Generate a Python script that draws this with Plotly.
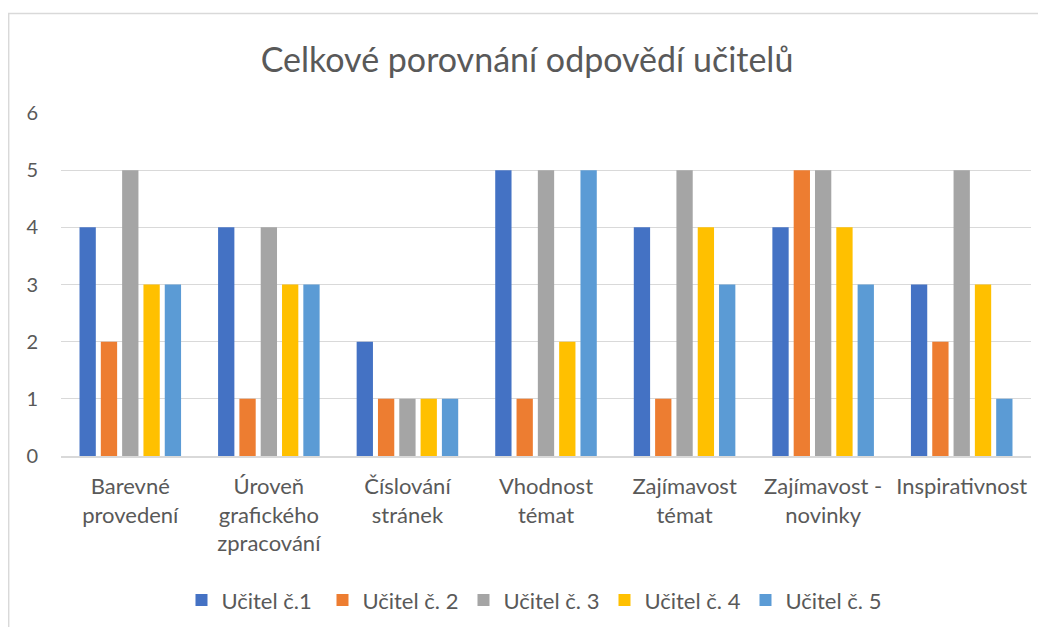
import plotly.graph_objects as go

categories = ["Barevné<br>provedení", "Úroveň<br>grafického<br>zpracování", "Číslování<br>stránek",
              "Vhodnost<br>témat", "Zajímavost<br>témat", "Zajímavost -<br>novinky", "Inspirativnost"]
series_names = ["Učitel č.1", "Učitel č. 2", "Učitel č. 3", "Učitel č. 4", "Učitel č. 5"]
ucitel1 = [4, 4, 2, 5, 4, 4, 3]
ucitel2 = [2, 1, 1, 1, 1, 5, 2]
ucitel3 = [5, 4, 1, 5, 5, 5, 5]
ucitel4 = [3, 3, 1, 2, 4, 4, 3]
ucitel5 = [3, 3, 1, 5, 3, 3, 1]
colors = ["#4472C4", "#ED7D31", "#A5A5A5", "#FFC000", "#5B9BD5"]

FONT = "Lato"
GREY = "#595959"

# page has an 8px body margin, so the figure is drawn 8px smaller and offset
W, H = 1038, 619
L, R, T, B = 53.3, 15.3, 105.3, 171
plot_w = W - L - R
plot_h = H - T - B

fig = go.Figure()
for name, vals, col in zip(series_names, [ucitel1, ucitel2, ucitel3, ucitel4, ucitel5], colors):
    fig.add_trace(go.Bar(x=categories, y=vals, name=name, marker=dict(color=col, line=dict(width=0))))

fig.update_layout(
    width=W, height=H,
    paper_bgcolor="white", plot_bgcolor="white",
    barmode="group", bargap=0.231, bargroupgap=0.235,
    margin=dict(l=L, r=R, t=T, b=B, autoexpand=False),
    title=dict(text="Celkové porovnání odpovědí učitelů", x=0.5, xanchor="center",
               y=1 - 52 / H, yanchor="middle",
               font=dict(family=FONT, size=34, color=GREY)),
    font=dict(family=FONT, size=22, color=GREY),
    legend=dict(orientation="h", x=0.5 - 12 / plot_w, xanchor="center", y=(H - B - 592) / plot_h,
                yanchor="middle",
                font=dict(family=FONT, size=22, color=GREY), itemwidth=30,
                entrywidth=96, entrywidthmode="pixels",
                traceorder="normal"),
    xaxis=dict(showgrid=False, showline=True, linecolor="#D9D9D9", linewidth=1.5,
               ticks="", tickfont=dict(family=FONT, size=22, color=GREY), tickangle=0,
               ticklabelstandoff=10),
    yaxis=dict(range=[0, 6], dtick=1, showgrid=True, gridcolor="#D9D9D9", gridwidth=1,
               zeroline=False, showline=False, ticks="", ticklabelstandoff=22,
               tickfont=dict(family=FONT, size=20, color=GREY)),
    shapes=[dict(type="rect", xref="paper", yref="paper",
                 x0=(1 - L) / plot_w, x1=1.2, y0=-1, y1=(H - B - 6) / plot_h,
                 line=dict(color="#D9D9D9", width=1.5), fillcolor="rgba(0,0,0,0)", layer="below")],
)

fig.write_html("out.html")
